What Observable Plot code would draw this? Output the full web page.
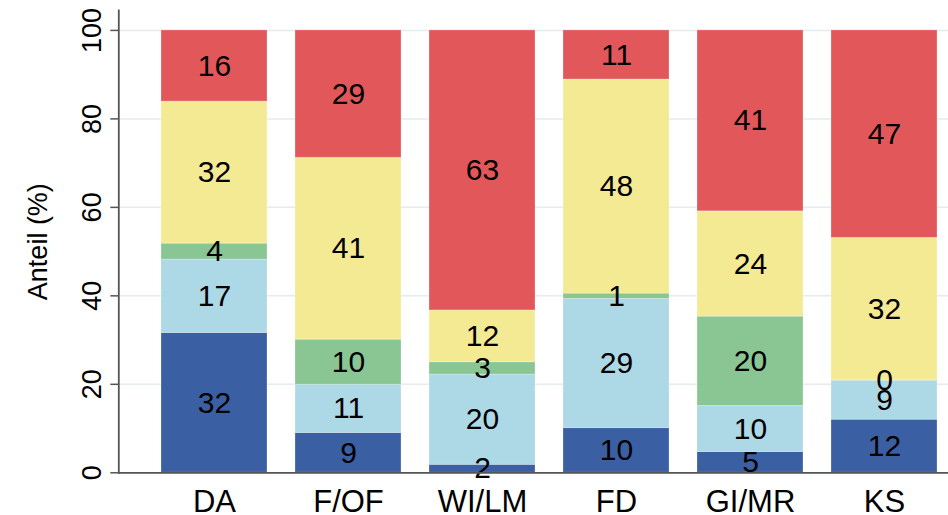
<!DOCTYPE html>
<html>
<head>
<meta charset="utf-8">
<script src="https://cdn.jsdelivr.net/npm/d3@7"></script>
<script src="https://cdn.jsdelivr.net/npm/@observablehq/plot@0.6"></script>
<style>
  html, body { margin: 0; padding: 0; background: #fff; }
  #chart { width: 948px; height: 515px; overflow: hidden; }
</style>
</head>
<body>
<div id="chart"></div>
<script>
const categories = ["DA", "F/OF", "WI/LM", "FD", "GI/MR", "KS"];
const series = ["s1", "s2", "s3", "s4", "s5"];
// values per series (bottom to top), one entry per category
const s1 = [31.6, 9.0, 1.8, 10.1, 4.7, 12.0];
const s2 = [16.6, 10.9, 20.4, 29.2, 10.4, 8.8];
const s3 = [3.6, 10.2, 2.8, 1.2, 20.2, 0.1];
const s4 = [32.1, 41.1, 11.7, 48.4, 23.8, 32.2];
const s5 = [16.1, 28.8, 63.3, 11.1, 40.9, 46.9];
const colors = ["#3b5fa3", "#add8e6", "#89c694", "#f4ea94", "#e2585a"];
const yTicks = [0, 20, 40, 60, 80, 100];
const yLabel = "Anteil (%)";

const seriesValues = [s1, s2, s3, s4, s5];
const data = [];
series.forEach((s, i) => {
  categories.forEach((c, j) => {
    data.push({cat: c, series: s, value: seriesValues[i][j]});
  });
});

const font = "'Liberation Sans', Arial, Helvetica, sans-serif";

const chart = Plot.plot({
  width: 948,
  height: 515,
  marginTop: 10,
  marginBottom: 42.7,
  marginLeft: 118.3,
  marginRight: 0,
  style: {fontFamily: font, background: "#fff", overflow: "hidden"},
  x: {domain: categories, range: [118.3, 979], paddingInner: 0.21, paddingOuter: 0.31},
  y: {domain: [0, 104.5]},
  color: {domain: series, range: colors},
  marks: [
    Plot.ruleY(yTicks.slice(1), {stroke: "#e4ebf1", strokeWidth: 1.5}),
    Plot.barY(data, {x: "cat", y: "value", fill: "series", stroke: "#ffffff", strokeOpacity: 0.25, strokeWidth: 1}),
    Plot.text(data, Plot.stackY({x: "cat", y: "value", text: d => String(Math.round(d.value)), fill: "#000", fontSize: 30})),
    Plot.ruleY([0], {stroke: "#555", strokeWidth: 1.8}),
    Plot.frame({anchor: "left", stroke: "#555", strokeWidth: 1.8}),
    Plot.axisY(yTicks, {tickSize: 8, tickFormat: () => "", stroke: "#555", strokeWidth: 1.5, label: null}),
    Plot.text(yTicks, {y: d => d, text: d => String(d), frameAnchor: "left", dx: -18, rotate: -90, textAnchor: "middle", lineAnchor: "bottom", fontSize: 27, fill: "#000"}),
    Plot.axisX({tickSize: 0, tickPadding: 17, fontSize: 31, label: null, fill: "#000"}),
    Plot.text([yLabel], {frameAnchor: "left", dx: -80, rotate: -90, textAnchor: "middle", lineAnchor: "middle", fontSize: 27, fill: "#000"})
  ]
});
document.getElementById("chart").appendChild(chart);
</script>
</body>
</html>
